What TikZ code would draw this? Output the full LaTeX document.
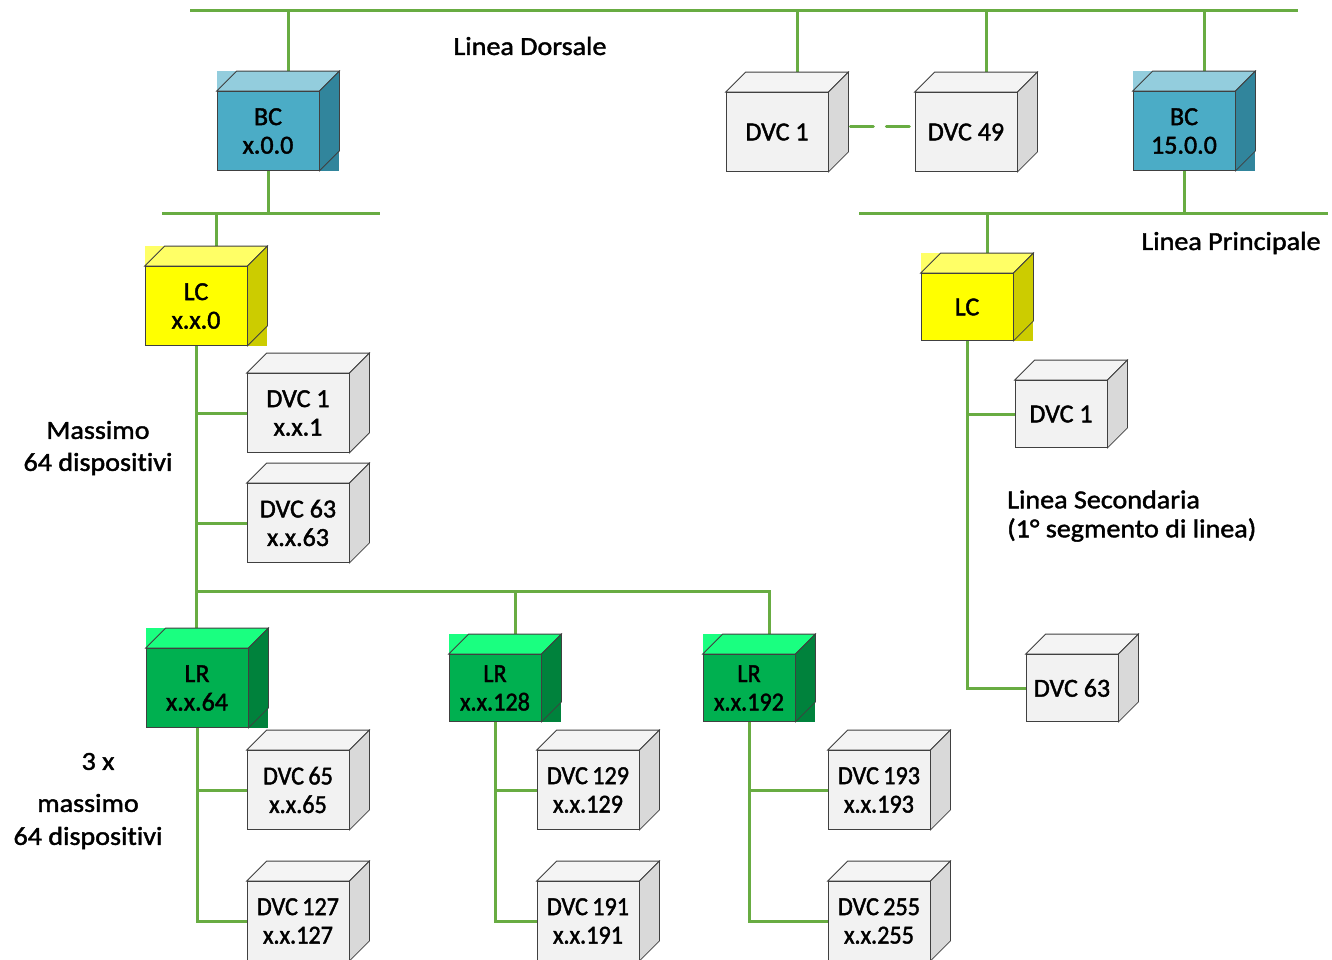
\documentclass[tikz,border=0pt]{standalone}
\usepackage{fontspec}
\setmainfont{Carlito}[FakeBold=1.6, Ligatures=NoCommon]
\newfontfamily\narrowfont{Carlito}[FakeStretch=0.93, FakeBold=1.6, Ligatures=NoCommon]
\newfontfamily\widefont{Carlito}[FakeStretch=1.08, FakeBold=1.6, Ligatures=NoCommon]
\pgfdeclarelayer{wires}
\pgfdeclarelayer{faces}
\pgfsetlayers{wires,faces,main}

\definecolor{wirec}{RGB}{104,172,66}
\definecolor{edgec}{RGB}{64,64,64}
\definecolor{bcfront}{RGB}{75,172,198}
\definecolor{bctop}{RGB}{147,205,221}
\definecolor{bcside}{RGB}{49,133,156}
\definecolor{lcfront}{RGB}{255,255,0}
\definecolor{lctop}{RGB}{255,255,102}
\definecolor{lcside}{RGB}{204,204,0}
\definecolor{lrfront}{RGB}{0,176,80}
\definecolor{lrtop}{RGB}{26,255,128}
\definecolor{lrside}{RGB}{0,130,60}
\definecolor{dvcfront}{RGB}{242,242,242}
\definecolor{dvctop}{RGB}{244,244,244}
\definecolor{dvcside}{RGB}{217,217,217}

% top and right faces of a box
\newcommand{\cubeface}[3]{%
  \draw[boxline, fill=#2] (#1.north west) -- ([shift={(20,-20)}]#1.north west)
    -- ([shift={(20,-20)}]#1.north east) -- (#1.north east) -- cycle;
  \draw[boxline, fill=#3] (#1.north east) -- ([shift={(20,-20)}]#1.north east)
    -- ([shift={(20,-20)}]#1.south east) -- (#1.south east) -- cycle;
  \coordinate (#1-top) at ([shift={(20,-20)}]#1.north);
}
% coloured boxes also fill their corners
\newcommand{\cubeback}[3]{%
  \fill[#2] ([shift={(0,-20)}]#1.north west) rectangle (#1.north east);
  \fill[#3] ([shift={(0,-20)}]#1.north east) rectangle ([shift={(20,0)}]#1.south east);
  \cubeface{#1}{#2}{#3}
}

\begin{document}
\begin{tikzpicture}[x=1pt, y=-1pt,
    wire/.style={draw=wirec, line width=3pt},
    boxline/.style={draw=edgec, line width=0.8pt},
    unit/.style={boxline, inner sep=0pt, align=center, font=\fontsize{26}{28.5}\selectfont},
    bigbox/.style={unit, minimum width=102, minimum height=79},
    smallbox/.style={unit, minimum width=92, minimum height=67},
    tight/.style={font=\narrowfont\fontsize{26}{28.5}\selectfont},
    lbl/.style={inner sep=0pt, font=\widefont\fontsize{26}{29}\selectfont}]
  \useasboundingbox (0,0) rectangle (1332,959);

  % couplers
  \node[bigbox, fill=bcfront] (bc0) at (268,131) {BC\\x.0.0};
  \node[bigbox, fill=bcfront] (bc15) at (1184,131) {BC\\15.0.0};
  \node[bigbox, fill=lcfront] (lc0) at (196,306) {LC\\x.x.0};
  \node[smallbox, fill=lcfront] (lc1) at (967,307) {LC};
  \node[bigbox, fill=lrfront] (lr64) at (197,688) {LR\\x.x.64};
  \node[smallbox, fill=lrfront, tight] (lr128) at (495,688) {LR\\x.x.128};
  \node[smallbox, fill=lrfront, tight] (lr192) at (749,688) {LR\\x.x.192};

  % devices
  \node[bigbox, fill=dvcfront] (dvcA) at (777,132) {DVC 1};
  \node[bigbox, fill=dvcfront] (dvcB) at (966,132) {DVC 49};
  \node[smallbox, fill=dvcfront] (dvcr1) at (1061,414) {DVC 1};
  \node[smallbox, fill=dvcfront] (dvcr63) at (1072,688) {DVC 63};
  \foreach \n/\x/\y/\t in {dvc1/298/413/{DVC 1\\x.x.1}, dvc63/298/523/{DVC 63\\x.x.63}}
    \node[bigbox, fill=dvcfront] (\n) at (\x,\y) {\t};
  \foreach \n/\x/\y/\t in {dvc65/298/790/{DVC\,65\\x.x.65}, dvc127/298/921/{DVC\,127\\x.x.127},
      dvc129/588/790/{DVC\,129\\x.x.129}, dvc191/588/921/{DVC\,191\\x.x.191},
      dvc193/879/790/{DVC\,193\\x.x.193}, dvc255/879/921/{DVC\,255\\x.x.255}}
    \node[bigbox, fill=dvcfront, tight] (\n) at (\x,\y) {\t};

  \begin{pgfonlayer}{faces}
    \cubeback{bc0}{bctop}{bcside}
    \cubeback{bc15}{bctop}{bcside}
    \foreach \n in {lc0,lc1} \cubeback{\n}{lctop}{lcside};
    \foreach \n in {lr64,lr128,lr192} \cubeback{\n}{lrtop}{lrside};
    \foreach \n in {dvcA,dvcB,dvcr1,dvcr63,dvc1,dvc63,dvc65,dvc127,dvc129,dvc191,dvc193,dvc255}
      \cubeface{\n}{dvctop}{dvcside};
  \end{pgfonlayer}

  % bus lines
  \coordinate (dorsW) at (190,10); \coordinate (dorsE) at (1298,10);
  \coordinate (lineLW) at (162,213); \coordinate (lineLE) at (380,213);
  \coordinate (lineRW) at (859,213); \coordinate (lineRE) at (1328,213);
  \coordinate (lrjoin) at (196,591);
  \begin{pgfonlayer}{wires}
    \draw[wire] (dorsW) -- (dorsE);
    \draw[wire] (lineLW) -- (lineLE);
    \draw[wire] (lineRW) -- (lineRE);
    \foreach \n in {bc0,dvcA,dvcB,bc15} \draw[wire] (\n-top) -- (\n-top |- dorsW);
    \draw[wire] (bc0.south) -- (bc0.south |- lineLW);
    \draw[wire] (lc0-top) -- (lc0-top |- lineLW);
    \draw[wire] (bc15.south) -- (bc15.south |- lineRW);
    \draw[wire] (lc1-top) -- (lc1-top |- lineRW);
    \draw[wire] (lc0.south) -- (lc0.south |- lr64-top);
    \foreach \n in {dvc1,dvc63} \draw[wire] (\n.west) -- (\n.west -| lc0.south);
    \draw[wire] (lrjoin) -| (lr192-top);
    \draw[wire] (lr128-top) -- (lr128-top |- lrjoin);
    \draw[wire] (lr64.south) |- (dvc127.west);
    \draw[wire] (dvc65.west) -- (dvc65.west -| lr64.south);
    \draw[wire] (lr128.south) |- (dvc191.west);
    \draw[wire] (dvc129.west) -- (dvc129.west -| lr128.south);
    \draw[wire] (lr192.south) |- (dvc255.west);
    \draw[wire] (dvc193.west) -- (dvc193.west -| lr192.south);
    \draw[wire] (lc1.south) |- (dvcr63.west);
    \draw[wire] (dvcr1.west) -- (dvcr1.west -| lc1.south);
  \end{pgfonlayer}
  \draw[wire, dash pattern=on 23pt off 13pt, line cap=round]
    ([shift={(22,-6)}]dvcA.east) -- ([shift={(-3,-6)}]dvcB.west);

  % labels
  \node[lbl] (dorsale) at (530,46) {Linea Dorsale};
  \node[lbl] (principale) at (1231,243) {Linea Principale};
  \node[lbl, align=center, font=\widefont\fontsize{26}{32}\selectfont] (massimo) at (98,448)
    {Massimo\\64 dispositivi};
  \node[lbl, align=center, font=\widefont\fontsize{26}{33}\selectfont] (tremax) at (88,801)
    {\hspace*{20pt}3 x\\[9pt]massimo\\64 dispositivi};
  \node[lbl, align=left, anchor=west] (secondaria) at (1007,516) {Linea Secondaria\\(1° segmento di linea)};
\end{tikzpicture}
\end{document}
